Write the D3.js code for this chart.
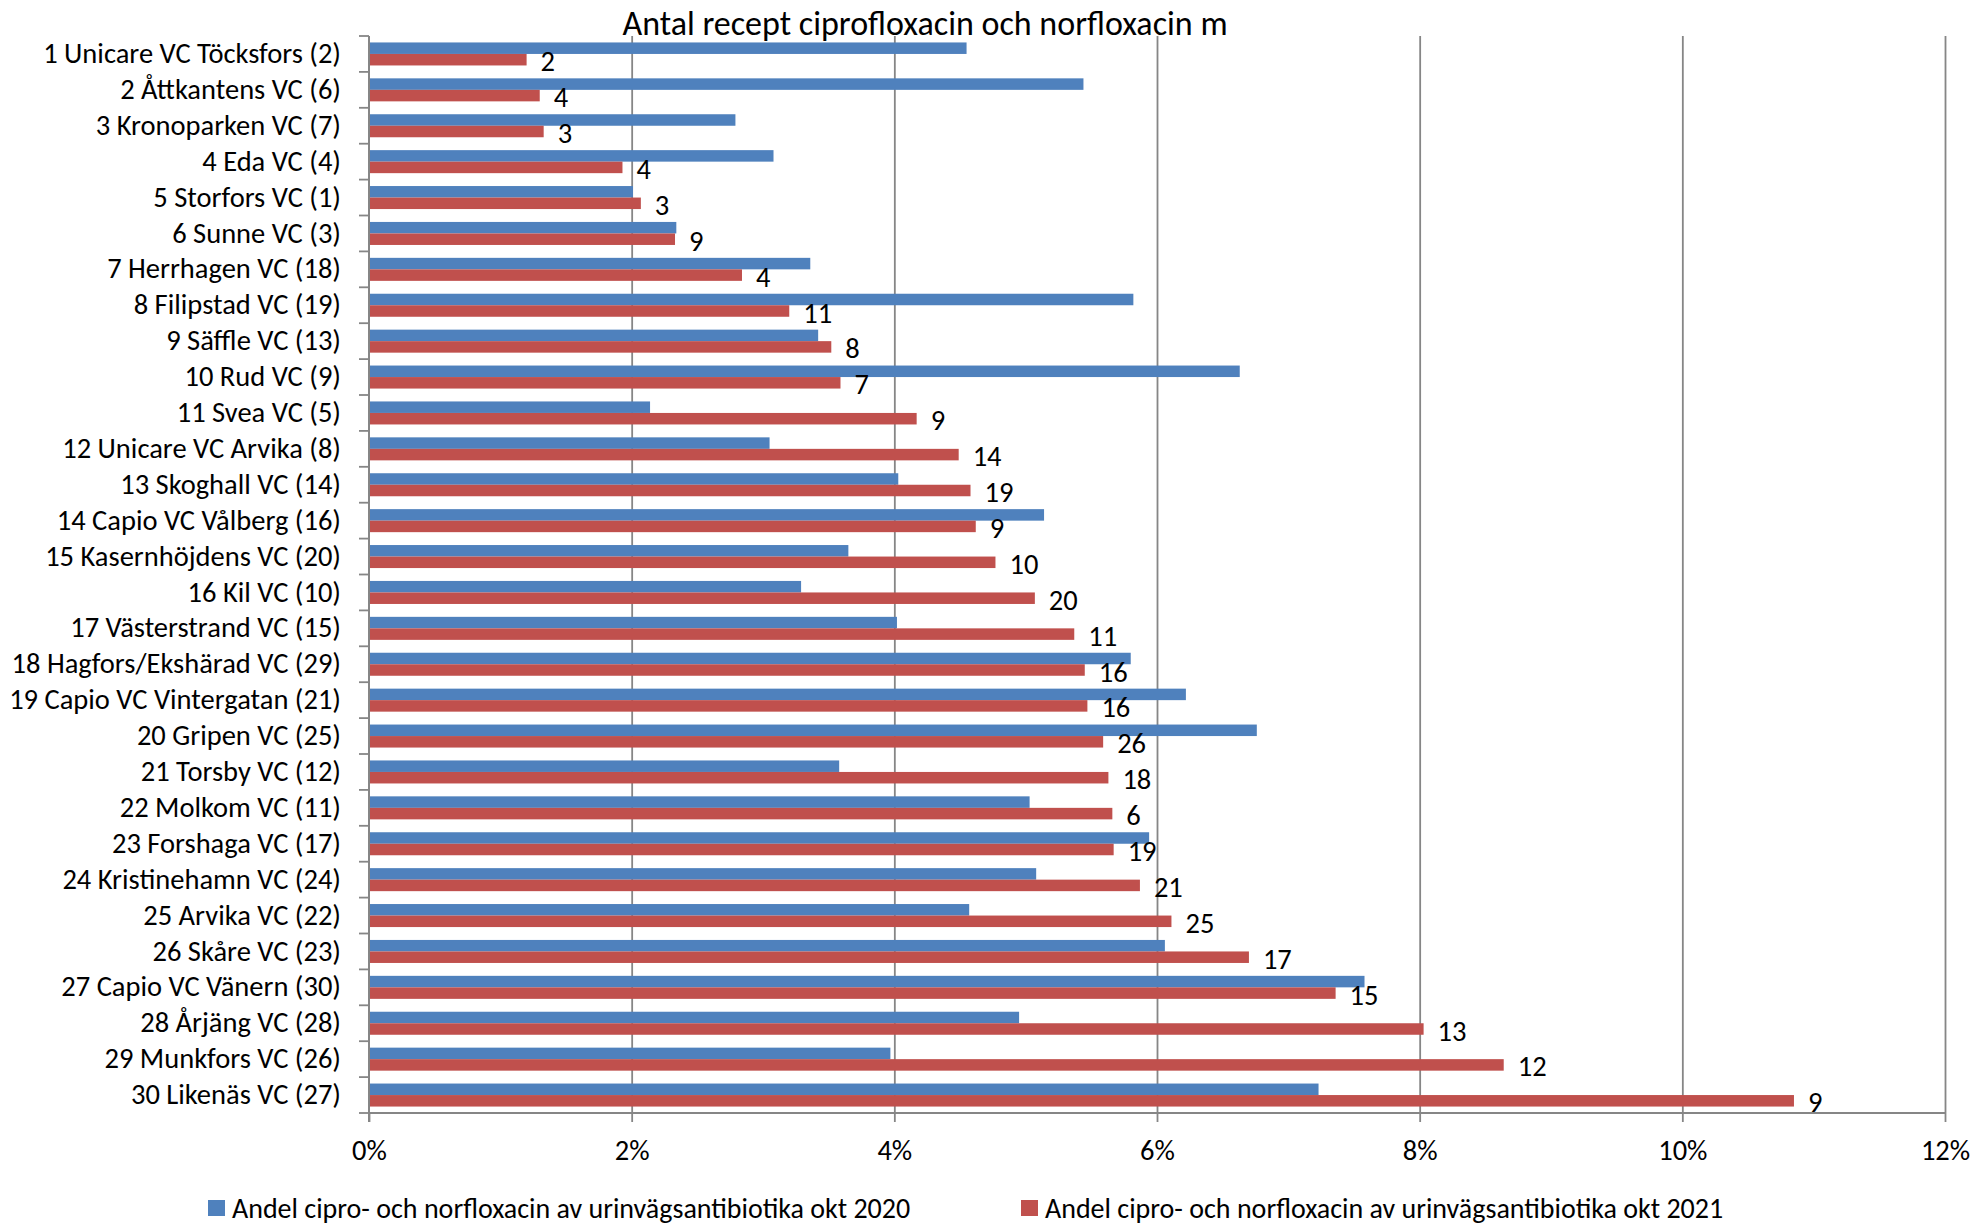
<!DOCTYPE html>
<html><head><meta charset="utf-8">
<script src="https://cdn.jsdelivr.net/npm/d3@7"></script>
<style>
html,body{margin:0;padding:0;background:#fff;}
svg{display:block;}
text{font-family:Carlito,Calibri,Lato,"Open Sans",sans-serif;fill:#000;}
</style></head>
<body>
<svg id="chart" width="1972" height="1225"></svg>
<script>
const title = "Antal recept ciprofloxacin och norfloxacin m";
const categories = [
"1 Unicare VC Töcksfors (2)","2 Åttkantens VC (6)","3 Kronoparken VC (7)","4 Eda VC (4)",
"5 Storfors VC (1)","6 Sunne VC (3)","7 Herrhagen VC (18)","8 Filipstad VC (19)",
"9 Säffle VC (13)","10 Rud VC (9)","11 Svea VC (5)","12 Unicare VC Arvika (8)",
"13 Skoghall VC (14)","14 Capio VC Vålberg (16)","15 Kasernhöjdens VC (20)","16 Kil VC (10)",
"17 Västerstrand VC (15)","18 Hagfors/Ekshärad VC (29)","19 Capio VC Vintergatan (21)","20 Gripen VC (25)",
"21 Torsby VC (12)","22 Molkom VC (11)","23 Forshaga VC (17)","24 Kristinehamn VC (24)",
"25 Arvika VC (22)","26 Skåre VC (23)","27 Capio VC Vänern (30)","28 Årjäng VC (28)",
"29 Munkfors VC (26)","30 Likenäs VC (27)"];
const seriesNames = [
"Andel cipro- och norfloxacin av urinvägsantibiotika okt 2020",
"Andel cipro- och norfloxacin av urinvägsantibiotika okt 2021"];
const share2020 = [4.55,5.44,2.79,3.08,2.01,2.34,3.36,5.82,3.42,6.63,2.14,3.05,4.03,5.14,3.65,3.29,4.02,5.80,6.22,6.76,3.58,5.03,5.94,5.08,4.57,6.06,7.58,4.95,3.97,7.23];
const share2021 = [1.20,1.30,1.33,1.93,2.07,2.33,2.84,3.20,3.52,3.59,4.17,4.49,4.58,4.62,4.77,5.07,5.37,5.45,5.47,5.59,5.63,5.66,5.67,5.87,6.11,6.70,7.36,8.03,8.64,10.85];
const count2021 = [2,4,3,4,3,9,4,11,8,7,9,14,19,9,10,20,11,16,16,26,18,6,19,21,25,17,15,13,12,9];
const xTicks = [0,2,4,6,8,10,12];
const colors = ["#4F81BD","#C0504D"];

const svg = d3.select("#chart");
const L = 369, R = 1945, T = 36, B = 1113;
const FS = 28.5;

const x = d3.scaleLinear().domain([0,12]).range([L,R]);
const y = d3.scaleBand().domain(categories).range([T,B]).padding(0);
const ys = d3.scaleBand().domain([0,1]).range([0,y.bandwidth()]).paddingInner(0).paddingOuter(0.56);

// gridlines
svg.append("g").attr("transform",`translate(0,${T})`)
  .call(d3.axisBottom(x).tickValues(xTicks.slice(1)).tickSize(B-T).tickFormat(""))
  .call(g=>g.select(".domain").remove())
  .call(g=>g.selectAll("line").attr("stroke","#868686").attr("stroke-width",1.8));

// bars
const rows = categories.map((c,i)=>({c, vals:[share2020[i], share2021[i]], n: count2021[i]}));
const grp = svg.append("g").selectAll("g").data(rows).join("g")
  .attr("transform",d=>`translate(0,${y(d.c)})`);
grp.selectAll("rect").data(d=>d.vals.map((v,k)=>({v,k}))).join("rect")
  .attr("x",x(0)).attr("y",d=>ys(d.k)).attr("height",ys.bandwidth())
  .attr("width",d=>x(d.v)-x(0)).attr("fill",d=>colors[d.k]);
grp.append("text")
  .attr("x",d=>x(d.vals[1])+14)
  .attr("y",ys(1)+ys.bandwidth()/2+2)
  .attr("dominant-baseline","central")
  .attr("font-size",FS)
  .text(d=>d.n);

// x axis
svg.append("g").attr("transform",`translate(0,${B})`)
  .call(d3.axisBottom(x).tickValues(xTicks).tickSize(9).tickPadding(18).tickFormat(d=>d+"%"))
  .call(g=>g.select(".domain").attr("stroke","#868686").attr("stroke-width",2).attr("d",`M${L},0H${R}`))
  .call(g=>g.selectAll("line").attr("stroke","#868686").attr("stroke-width",1.8))
  .call(g=>g.selectAll("text").attr("font-size",FS).attr("fill","#000").attr("font-family",null));

// y axis
const yAx = svg.append("g").attr("transform",`translate(${L},0)`)
  .call(d3.axisLeft(y).tickSize(0).tickPadding(28))
  .call(g=>g.select(".domain").attr("stroke","#868686").attr("stroke-width",2).attr("d",`M0,${T}V${B+9}`))
  .call(g=>g.selectAll("text").attr("font-size",FS).attr("fill","#000").attr("font-family",null));
// category boundary ticks
yAx.append("g").selectAll("line").data(categories.map(c=>y(c)).concat([B])).join("line")
  .attr("x1",-10).attr("x2",0).attr("y1",d=>d).attr("y2",d=>d)
  .attr("stroke","#868686").attr("stroke-width",1.8);

// title
svg.append("text").attr("x",925).attr("y",23).attr("text-anchor","middle")
  .attr("dominant-baseline","central").attr("font-size",34).text(title);

// legend
const legX = [208, 1021];
const lg = svg.append("g").selectAll("g").data(seriesNames).join("g")
  .attr("transform",(d,i)=>`translate(${legX[i]},1200)`);
lg.append("rect").attr("width",17).attr("height",16).attr("fill",(d,i)=>colors[i]);
lg.append("text").attr("x",24).attr("y",8).attr("dominant-baseline","central")
  .attr("font-size",28).text(d=>d);
</script>
</body></html>
